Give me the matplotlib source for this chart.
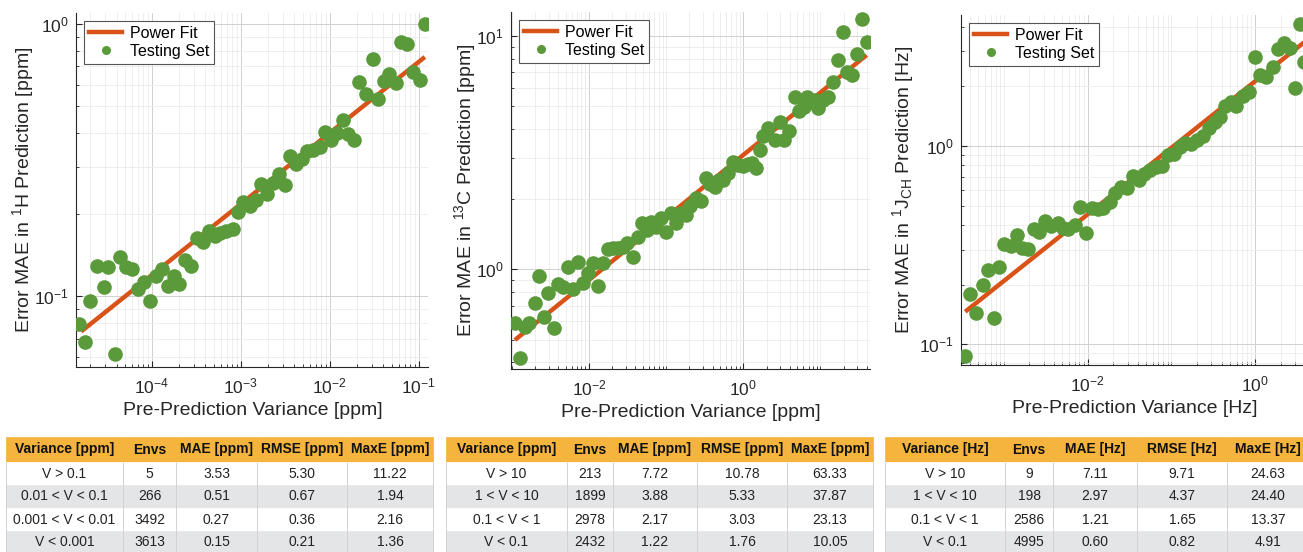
import matplotlib
matplotlib.use("Agg")
import matplotlib.pyplot as plt
from matplotlib.lines import Line2D
from matplotlib.ticker import LogLocator, LogFormatterMathtext, NullFormatter, FixedLocator

plt.rcParams['font.family'] = ['Liberation Sans', 'DejaVu Sans']
plt.rcParams['mathtext.default'] = 'regular'

# ---------------- data: 1H ----------------
h_var = [1.53e-5, 1.78e-5, 2.03e-5, 2.41e-5, 2.86e-5, 3.18e-5, 3.81e-5, 4.41e-5, 5.15e-5,
         5.96e-5, 6.97e-5, 8.20e-5, 9.57e-5, 1.11e-4, 1.29e-4, 1.50e-4, 1.75e-4, 2.03e-4,
         2.37e-4, 2.74e-4, 3.21e-4, 3.71e-4, 4.34e-4, 5.06e-4, 5.86e-4, 6.84e-4, 8.05e-4,
         9.25e-4, 1.07e-3, 1.25e-3, 1.46e-3, 1.69e-3, 1.96e-3, 2.29e-3, 2.65e-3, 3.10e-3,
         3.58e-3, 4.19e-3, 4.89e-3, 5.61e-3, 6.55e-3, 7.66e-3, 8.87e-3, 1.04e-2, 1.20e-2,
         1.40e-2, 1.62e-2, 1.89e-2, 2.15e-2, 2.56e-2, 3.04e-2, 3.52e-2, 4.07e-2, 4.65e-2,
         5.56e-2, 6.32e-2, 7.46e-2, 8.71e-2, 1.02e-1, 1.16e-1]
h_mae = [0.0794, 0.068, 0.096, 0.129, 0.108, 0.128, 0.0615, 0.140, 0.128, 0.126,
         0.106, 0.113, 0.096, 0.1185, 0.1264, 0.109, 0.119, 0.1107, 0.1357, 0.129,
         0.1643, 0.1584, 0.1734, 0.1663, 0.171, 0.1734, 0.1762, 0.205, 0.222, 0.214,
         0.2254, 0.2596, 0.238, 0.261, 0.281, 0.2575, 0.327, 0.3076, 0.3206, 0.342,
         0.346, 0.354, 0.402, 0.375, 0.398, 0.4463, 0.394, 0.375, 0.614, 0.553,
         0.743, 0.530, 0.619, 0.659, 0.608, 0.857, 0.849, 0.668, 0.623, 1.0]
h_fit_x = [1.6e-5, 0.117]
h_fit_y = [0.0743, 0.758]

# ---------------- data: 13C ----------------
c_var = [1.10e-3, 1.30e-3, 1.48e-3, 1.69e-3, 2.00e-3, 2.27e-3, 2.61e-3, 2.97e-3, 3.56e-3,
         4.01e-3, 4.65e-3, 5.40e-3, 6.27e-3, 7.28e-3, 8.45e-3, 9.79e-3, 1.12e-2, 1.33e-2,
         1.53e-2, 1.75e-2, 2.03e-2, 2.40e-2, 2.73e-2, 3.14e-2, 3.68e-2, 4.28e-2, 4.82e-2,
         5.58e-2, 6.35e-2, 7.38e-2, 8.57e-2, 9.95e-2, 1.16e-1, 1.34e-1, 1.54e-1, 1.79e-1,
         2.07e-1, 2.44e-1, 2.82e-1, 3.25e-1, 3.70e-1, 4.30e-1, 4.89e-1, 5.51e-1, 6.40e-1,
         7.41e-1, 8.61e-1, 1.00, 1.14, 1.28, 1.46, 1.64, 1.82, 2.11, 2.55, 2.98, 3.40,
         3.94, 4.68, 5.32, 6.11, 6.75, 7.69, 8.49, 9.38, 10.7, 12.6, 14.7, 16.7, 19.8,
         22.3, 25.4, 29.4, 34.1, 40.5]
c_mae = [0.587, 0.416, 0.568, 0.590, 0.715, 0.936, 0.627, 0.789, 0.559, 0.865,
         0.843, 1.02, 0.821, 1.079, 0.877, 0.961, 1.061, 0.849, 1.061, 1.219,
         1.23, 1.23, 1.242, 1.30, 1.133, 1.371, 1.585, 1.475, 1.60, 1.524,
         1.655, 1.45, 1.75, 1.585, 1.738, 1.71, 1.868, 2.015, 1.963, 2.455,
         2.32, 2.26, 2.415, 2.415, 2.578, 2.875, 2.80, 2.78, 2.845, 2.865,
         2.728, 3.247, 3.727, 4.05, 3.58, 4.295, 3.58, 3.916, 5.50, 4.773,
         4.98, 5.50, 5.23, 5.32, 4.90, 5.32, 5.50, 6.37, 7.89, 10.4,
         7.03, 6.81, 8.37, 11.9, 9.40]
c_fit_x = [1.10e-3, 39.6]
c_fit_y = [0.498, 8.3]

# ---------------- data: 1J_CH ----------------
j_var = [3.48e-4, 3.98e-4, 4.70e-4, 5.60e-4, 6.47e-4, 7.57e-4, 8.91e-4, 1.02e-3, 1.22e-3,
         1.44e-3, 1.65e-3, 1.94e-3, 2.27e-3, 2.66e-3, 3.13e-3, 3.69e-3, 4.39e-3, 5.08e-3,
         5.93e-3, 7.00e-3, 8.18e-3, 9.64e-3, 1.13e-2, 1.32e-2, 1.55e-2, 1.83e-2, 2.10e-2,
         2.50e-2, 2.94e-2, 3.44e-2, 4.06e-2, 4.74e-2, 5.60e-2, 6.59e-2, 7.71e-2, 8.99e-2,
         1.06e-1, 1.25e-1, 1.46e-1, 1.71e-1, 2.01e-1, 2.38e-1, 2.77e-1, 3.27e-1, 3.83e-1,
         4.39e-1, 5.13e-1, 5.93e-1, 7.06e-1, 8.32e-1, 9.82e-1, 1.15, 1.35, 1.61, 1.86,
         2.22, 2.61, 3.00, 3.44, 3.78]
j_mae = [0.0873, 0.1787, 0.1433, 0.199, 0.237, 0.135, 0.2465, 0.319, 0.313, 0.355,
         0.305, 0.301, 0.380, 0.370, 0.4205, 0.397, 0.41, 0.387, 0.380, 0.40,
         0.491, 0.366, 0.485, 0.48, 0.489, 0.524, 0.582, 0.624, 0.612, 0.708,
         0.674, 0.722, 0.757, 0.78, 0.796, 0.901, 0.911, 0.993, 1.031, 1.019,
         1.072, 1.123, 1.228, 1.326, 1.406, 1.59, 1.674, 1.59, 1.794, 1.88,
         2.80, 2.28, 2.24, 2.51, 3.08, 3.29, 3.11, 1.97, 4.12, 2.66]
j_fit_x = [3.48e-4, 5.0]
j_fit_y = [0.146, 3.65]

# ---------------- tables ----------------
h_cols = ['Variance [ppm]', 'Envs', 'MAE [ppm]', 'RMSE [ppm]', 'MaxE [ppm]']
h_rows = [['V > 0.1', '5', '3.53', '5.30', '11.22'],
          ['0.01 < V < 0.1', '266', '0.51', '0.67', '1.94'],
          ['0.001 < V < 0.01', '3492', '0.27', '0.36', '2.16'],
          ['V < 0.001', '3613', '0.15', '0.21', '1.36']]
c_cols = ['Variance [ppm]', 'Envs', 'MAE [ppm]', 'RMSE [ppm]', 'MaxE [ppm]']
c_rows = [['V > 10', '213', '7.72', '10.78', '63.33'],
          ['1 < V < 10', '1899', '3.88', '5.33', '37.87'],
          ['0.1 < V < 1', '2978', '2.17', '3.03', '23.13'],
          ['V < 0.1', '2432', '1.22', '1.76', '10.05']]
j_cols = ['Variance [Hz]', 'Envs', 'MAE [Hz]', 'RMSE [Hz]', 'MaxE [Hz]']
j_rows = [['V > 10', '9', '7.11', '9.71', '24.63'],
          ['1 < V < 10', '198', '2.97', '4.37', '24.40'],
          ['0.1 < V < 1', '2586', '1.21', '1.65', '13.37'],
          ['V < 0.1', '4995', '0.60', '0.82', '4.91']]

ORANGE = '#D95319'
GREEN = '#5A9A3A'
DARK = '#262626'
HEADER = '#F4B43D'
GRAY_ROW = '#E4E5E7'

W, H = 1303, 552
fig = plt.figure(figsize=(W / 100, H / 100), dpi=100)


def px_axes(left, top, right, bottom):
    return fig.add_axes([left / W, 1 - bottom / H, (right - left) / W, (bottom - top) / H])


def style_plot(ax, x, y, fx, fy, xlim, ylim, xmajor, ymajor, xlabel, ylabel,
               xlab_pos, ylab_pos):
    ax.set_xscale('log')
    ax.set_yscale('log')
    ax.plot(fx, fy, color=ORANGE, lw=3.2, solid_capstyle='butt', zorder=2)
    ax.plot(x, y, 'o', color=GREEN, ms=9.5, mec=GREEN, zorder=3)
    ax.set_xlim(*xlim)
    ax.set_ylim(*ylim)
    ax.xaxis.set_major_locator(FixedLocator(xmajor))
    ax.yaxis.set_major_locator(FixedLocator(ymajor))
    ax.xaxis.set_major_formatter(LogFormatterMathtext())
    ax.yaxis.set_major_formatter(LogFormatterMathtext())
    ax.xaxis.set_minor_locator(LogLocator(base=10, subs=[1, 2, 3, 4, 5, 6, 7, 8, 9], numticks=30))
    ax.yaxis.set_minor_locator(LogLocator(base=10, subs=[1, 2, 3, 4, 5, 6, 7, 8, 9], numticks=30))
    ax.xaxis.set_minor_formatter(NullFormatter())
    ax.yaxis.set_minor_formatter(NullFormatter())
    ax.grid(which='major', color='#d0d0d0', lw=0.7)
    ax.grid(which='minor', color='#ebebeb', lw=0.6)
    ax.set_axisbelow(True)
    for s in ['top', 'right']:
        ax.spines[s].set_visible(False)
    for s in ['left', 'bottom']:
        ax.spines[s].set_color(DARK)
        ax.spines[s].set_linewidth(0.8)
    ax.tick_params(which='both', direction='in', colors=DARK, labelsize=12.5)
    ax.tick_params(axis='x', which='major', pad=7)
    ax.tick_params(axis='y', which='major', pad=5)
    ax.tick_params(which='major', length=4)
    ax.tick_params(which='minor', length=2)
    ax.set_xlabel(xlabel, fontsize=14, color=DARK)
    ax.set_ylabel(ylabel, fontsize=14, color=DARK)
    ax.xaxis.set_label_coords(*xlab_pos)
    ax.yaxis.set_label_coords(*ylab_pos)
    ax.xaxis.label.set_verticalalignment('center')
    ax.yaxis.label.set_verticalalignment('center')
    handles = [Line2D([], [], color=ORANGE, lw=3.2),
               Line2D([], [], ls='', marker='o', color=GREEN, ms=5.5)]
    leg = ax.legend(handles, ['Power Fit', 'Testing Set'], loc='upper left',
                    fontsize=11.5, frameon=True, fancybox=False, framealpha=1,
                    edgecolor='#555555', handlelength=2.1, borderpad=0.3,
                    labelspacing=0.2, handletextpad=0.5, borderaxespad=0.5)
    leg.get_frame().set_linewidth(0.8)


ax1 = px_axes(76, 13, 428, 367)
style_plot(ax1, h_var, h_mae, h_fit_x, h_fit_y, (1.4e-5, 0.127), (0.055, 1.1),
           [1e-4, 1e-3, 1e-2, 1e-1], [1e-1, 1e0],
           'Pre-Prediction Variance [ppm]', 'Error MAE in $^{1}$H Prediction [ppm]',
           (0.503, -0.123), (-0.150, 0.5))

ax2 = px_axes(511, 12, 870, 369)
style_plot(ax2, c_var, c_mae, c_fit_x, c_fit_y, (9.8e-4, 43.8), (0.374, 12.7),
           [1e-2, 1e0], [1e0, 1e1],
           'Pre-Prediction Variance [ppm]', 'Error MAE in $^{13}$C Prediction [ppm]',
           (0.501, -0.123), (-0.128, 0.5))

ax3 = px_axes(961, 15, 1316, 365)
style_plot(ax3, j_var, j_mae, j_fit_x, j_fit_y, (3.1e-4, 5.3), (0.0786, 4.58),
           [1e-2, 1e0], [1e-1, 1e0],
           'Pre-Prediction Variance [Hz]', 'Error MAE in $^{1}$J$_{CH}$ Prediction [Hz]',
           (0.490, -0.123), (-0.163, 0.5))


def draw_table(left, right, cols, rows, widths):
    ax = px_axes(left, 437, right, 554)
    ax.axis('off')
    tot = sum(widths)
    fr = [w / tot for w in widths]
    tb = ax.table(cellText=rows, colLabels=cols, colWidths=fr,
                  cellLoc='center', bbox=[0, 0, 1, 1])
    tb.auto_set_font_size(False)
    for (r, c), cell in tb.get_celld().items():
        if r == 0:
            cell.set_height(25)
            cell.set_facecolor(HEADER)
            cell.set_edgecolor(HEADER)
            cell.get_text().set_fontweight('bold')
            cell.get_text().set_fontsize(10)
            cell.get_text().set_color('#111111')
        else:
            cell.set_height(23)
            fc = 'white' if r % 2 == 1 else GRAY_ROW
            cell.set_facecolor(fc)
            cell.set_edgecolor(fc)
            cell.get_text().set_fontsize(10)
            cell.get_text().set_color('#222222')
        cell.set_linewidth(0.5)
    body_top = 92 / 117
    xs = [0.0]
    for f in fr:
        xs.append(xs[-1] + f)
    ax.vlines(xs, 0, body_top, transform=ax.transAxes, colors='#d2d2d2', lw=0.7,
              zorder=5, clip_on=False)


draw_table(6, 433, h_cols, h_rows, [117, 53, 81, 90, 86])
draw_table(446, 873, c_cols, c_rows, [121, 46, 84, 90, 86])
draw_table(885, 1309, j_cols, j_rows, [120, 48, 84, 90, 82])

fig.savefig('out.png', dpi=100)
